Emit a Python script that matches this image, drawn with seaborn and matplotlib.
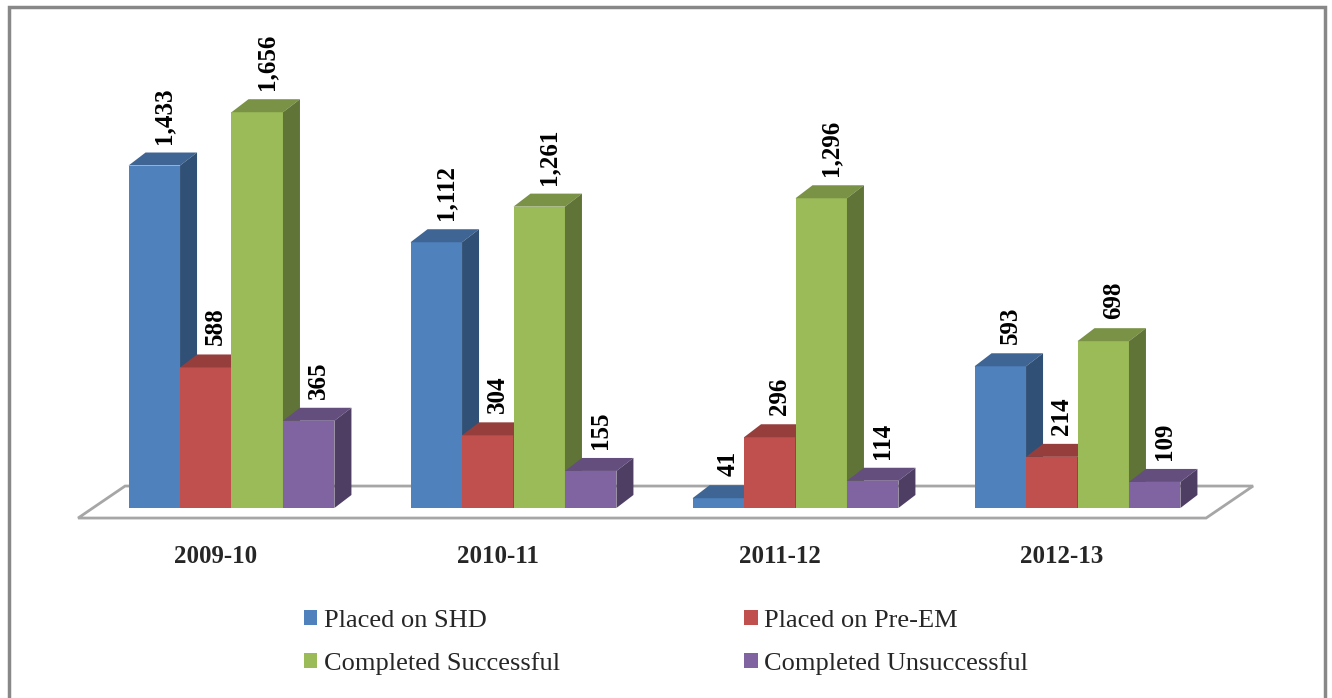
import matplotlib
matplotlib.use("Agg")
import matplotlib.pyplot as plt
import seaborn as sns
import pandas as pd
import numpy as np
from matplotlib.patches import Polygon, Rectangle, Patch
from matplotlib.colors import to_rgb

years = ["2009-10", "2010-11", "2011-12", "2012-13"]
series = ["Placed on SHD", "Placed on Pre-EM", "Completed Successful", "Completed Unsuccessful"]
shd = [1433, 1112, 41, 593]
pre_em = [588, 304, 296, 214]
successful = [1656, 1261, 1296, 698]
unsuccessful = [365, 155, 114, 109]
colors = ["#4F81BD", "#C0504D", "#9BBB59", "#8064A2"]

df = pd.DataFrame({
    "year": years * 4,
    "series": np.repeat(series, len(years)),
    "value": shd + pre_em + successful + unsuccessful,
})

sns.set_theme(style="white")
plt.rcParams["font.family"] = ["Liberation Serif", "DejaVu Serif"]

W, H = 1332, 698
fig = plt.figure(figsize=(W / 100, H / 100), dpi=100)

# pixel scale of the original: one category = 282 px, one unit = 0.239 px
px_x = 282
px_y = 0.239
x0_px = 231.5   # centre of first group
y0_px = 190     # baseline, from bottom
xlim = (-0.62, 3.72)
ylim = (-60, 2100)
ax = fig.add_axes([(x0_px + xlim[0] * px_x) / W,
                   (y0_px + ylim[0] * px_y) / H,
                   (xlim[1] - xlim[0]) * px_x / W,
                   (ylim[1] - ylim[0]) * px_y / H])

sns.barplot(data=df, x="year", y="value", hue="series", order=years,
            hue_order=series, palette=colors, saturation=1, width=0.73,
            linewidth=0, legend=False, ax=ax)

# fake 3d depth
dx = 17 / px_x
dy = 13 / px_y
for i, p in enumerate(sorted(ax.patches, key=lambda p: p.get_x())):
    z = 3 + i * 0.1
    p.set_zorder(z)
    x, w, h = p.get_x(), p.get_width(), p.get_height()
    c = np.array(to_rgb(p.get_facecolor()))
    top = Polygon([(x, h), (x + dx, h + dy), (x + w + dx, h + dy), (x + w, h)],
                  closed=True, fc=c * 0.78, lw=0, zorder=z + 0.05)
    side = Polygon([(x + w, 0), (x + w + dx, dy), (x + w + dx, h + dy), (x + w, h)],
                   closed=True, fc=c * 0.62, lw=0, zorder=z + 0.05)
    ax.add_patch(top)
    ax.add_patch(side)
    ax.text(x + w / 2 + 10 / px_x, h + dy + 9 / px_y, f"{int(h):,}",
            rotation=90, ha="center", va="bottom", fontsize=18,
            fontweight="bold", color="black", zorder=20)

# floor
fl, fr = -0.544, len(years) - 0.544
ff = -42
fdx, fdy = 47 / px_x, 32 / px_y
floor = Polygon([(fl, ff), (fl + fdx, ff + fdy), (fr + fdx, ff + fdy), (fr, ff)],
                closed=True, fc="white", ec="#A6A6A6", lw=2, zorder=1)
ax.add_patch(floor)

ax.set_xlim(*xlim)
ax.set_ylim(*ylim)
ax.set_xticks(np.arange(len(years)) - 0.055)
ax.set_xticklabels(years, fontsize=18, fontweight="bold")
ax.tick_params(axis="x", length=0, pad=16)
ax.set_yticks([])
ax.set_xlabel("")
ax.set_ylabel("")
for s in ax.spines.values():
    s.set_visible(False)
ax.patch.set_alpha(0)

handles = [Patch(fc=c, ec="none") for c in colors]
order = [0, 2, 1, 3]
fig.legend([handles[k] for k in order], [series[k] for k in order],
           loc="center", bbox_to_anchor=(0.5, 0.08), ncol=2, frameon=False,
           fontsize=19, handlelength=0.5, handleheight=0.5, handletextpad=0.25,
           columnspacing=7, labelspacing=0.75)

fig.patches.append(Rectangle((9 / W, -0.05), (1325 - 9) / W, 1 + 0.05 - 7 / H,
                             transform=fig.transFigure, fill=False,
                             ec="#888888", lw=2.5))

fig.savefig("out.png", dpi=100)
